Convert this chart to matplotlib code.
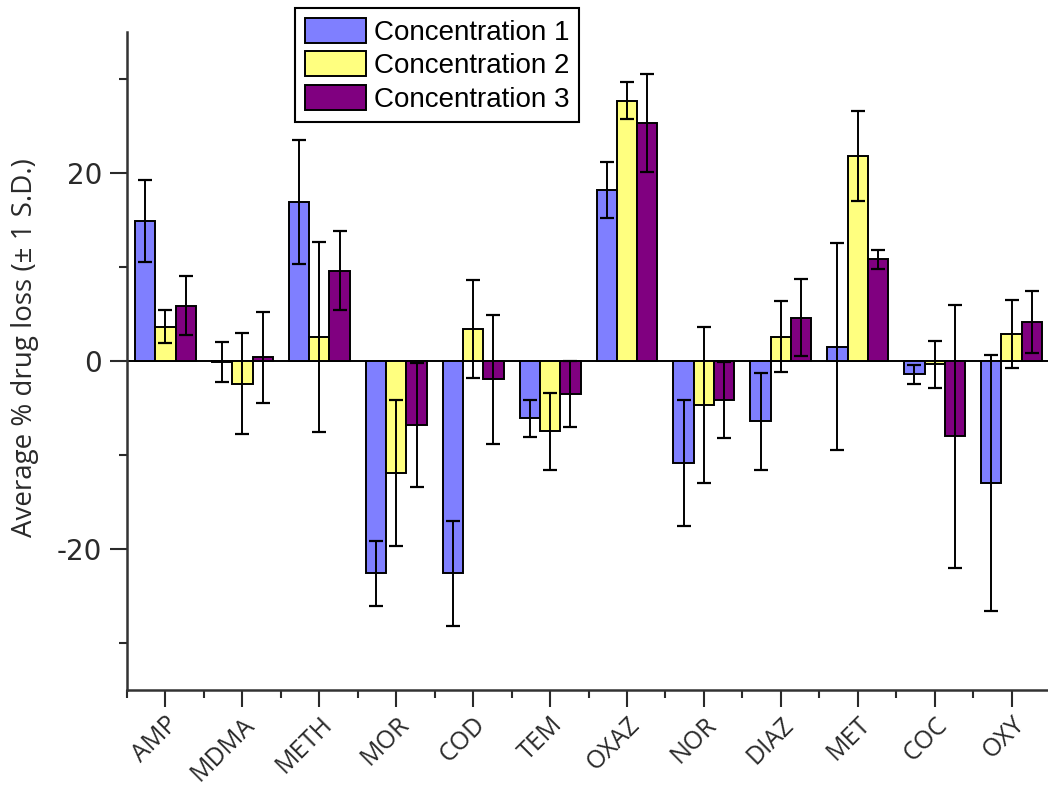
import numpy as np
import matplotlib.pyplot as plt
from matplotlib.ticker import MultipleLocator

drugs = ["AMP", "MDMA", "METH", "MOR", "COD", "TEM",
         "OXAZ", "NOR", "DIAZ", "MET", "COC", "OXY"]
series_names = ["Concentration 1", "Concentration 2", "Concentration 3"]

# mean % loss and 1 S.D. for each concentration
conc1_mean = [14.9, -0.1, 16.9, -22.6, -22.6, -6.1, 18.2, -10.9, -6.4, 1.5, -1.4, -13.0]
conc1_sd = [4.4, 2.15, 6.6, 3.5, 5.6, 2.0, 2.95, 6.7, 5.15, 11.0, 1.0, 13.6]
conc2_mean = [3.65, -2.4, 2.55, -11.9, 3.4, -7.5, 27.7, -4.65, 2.6, 21.8, -0.35, 2.85]
conc2_sd = [1.75, 5.4, 10.1, 7.8, 5.2, 4.05, 1.95, 8.3, 3.75, 4.75, 2.5, 3.65]
conc3_mean = [5.9, 0.4, 9.6, -6.8, -1.95, -3.5, 25.3, -4.15, 4.6, 10.8, -8.0, 4.15]
conc3_sd = [3.1, 4.85, 4.2, 6.6, 6.85, 3.5, 5.25, 4.05, 4.1, 1.0, 14.0, 3.3]

colors = ["#7f7fff", "#ffff7f", "#800080"]

plt.rcParams['font.family'] = ['Liberation Sans', 'DejaVu Sans']
plt.rcParams['axes.unicode_minus'] = False

fig = plt.figure(figsize=(10.48, 7.91), dpi=100)
ax = fig.add_axes([0.1212, 0.1277, 0.8808, 0.8319])

x = np.arange(len(drugs))
w = 0.264
means = [conc1_mean, conc2_mean, conc3_mean]
sds = [conc1_sd, conc2_sd, conc3_sd]
bars = []
for i in range(3):
    b = ax.bar(x + (i - 1) * w, means[i], w, color=colors[i],
               edgecolor='black', linewidth=1.4, zorder=2,
               label=series_names[i])
    ax.errorbar(x + (i - 1) * w, means[i], yerr=sds[i], fmt='none',
                ecolor='black', elinewidth=1.4, capsize=5, capthick=1.6,
                zorder=3)
    bars.append(b)

ax.axhline(0, color='black', linewidth=1.4, zorder=1)

ax.set_xlim(-0.5, 11.5)
ax.set_ylim(-35, 35)
ax.set_xticks(x)
ax.set_xticklabels(drugs, rotation=45, ha='right', rotation_mode='anchor',
                   family=['Open Sans', 'DejaVu Sans'], fontsize=18)
ax.xaxis.set_minor_locator(plt.FixedLocator(np.arange(-0.5, 12, 1)))
ax.yaxis.set_major_locator(MultipleLocator(20))
ax.yaxis.set_minor_locator(MultipleLocator(10))
ax.tick_params(axis='both', which='major', length=12, width=1.5,
               colors='#2a2a2a', direction='out')
ax.tick_params(axis='both', which='minor', length=6, width=1.5,
               color='#2a2a2a', direction='out')
ax.tick_params(axis='x', pad=4)
ax.tick_params(axis='y', pad=6)
for lab in ax.get_yticklabels():
    lab.set_family('DejaVu Sans')
    lab.set_fontsize(20)

ax.set_ylabel("Average % drug loss (\u00b1 1 S.D.)", fontsize=20,
              family=['Open Sans', 'DejaVu Sans'], color='#2a2a2a')
ax.yaxis.set_label_coords(-0.095, 0.52)

for side in ['top', 'right']:
    ax.spines[side].set_visible(False)
for side in ['left', 'bottom']:
    ax.spines[side].set_linewidth(1.8)
    ax.spines[side].set_color('#333333')

leg = ax.legend(handles=bars, loc='upper left',
                bbox_to_anchor=(0.2815, 0.9899), bbox_transform=fig.transFigure,
                fontsize=20, frameon=True, fancybox=False, framealpha=1,
                edgecolor='black', handlelength=2.2, handleheight=1.0,
                handletextpad=0.3, labelspacing=0.2, borderpad=0.35,
                borderaxespad=0)
leg.get_frame().set_linewidth(1.5)

fig.savefig("out.png", dpi=100)
